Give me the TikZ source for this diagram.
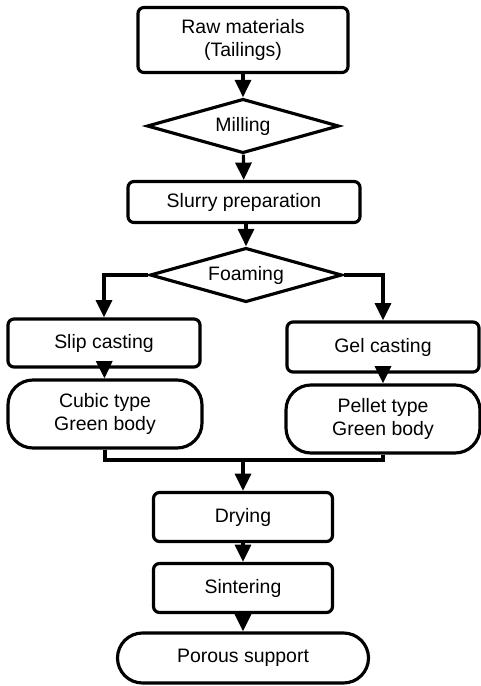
\documentclass[tikz,border=0pt]{standalone}
\usepackage{fontspec}
\setmainfont{Liberation Sans}
\usetikzlibrary{shapes.geometric,arrows.meta}

\begin{document}
\begin{tikzpicture}[x=0.03cm, y=-0.03cm, font=\fontsize{16.6}{20}\selectfont,
    procbox/.style={draw, line width=2.7pt, rounded corners=0.18cm, align=center, inner sep=0pt},
    endbox/.style={draw, line width=2.7pt, rounded corners=0.75cm, align=center, inner sep=0pt},
    choice/.style={draw, diamond, aspect=3.5, line width=2.7pt, inner sep=0pt,
      minimum width=5.76cm, minimum height=1.63cm},
    flow/.style={line width=2.7pt, -{Triangle[length=0.52cm,width=0.48cm]}},
    mergeline/.style={line width=2.7pt}]
        \useasboundingbox (0,0) rectangle (481,686);
        % main column
        \node[procbox, minimum width=6.3cm, minimum height=1.95cm] (raw) at (243,40) {Raw materials\\(Tailings)};
        \node[choice] (mill) at (243,126) {Milling};
        \node[procbox, minimum width=6.96cm, minimum height=1.23cm] (slurry) at (244,202) {Slurry preparation};
        \node[choice] (foam) at (246,275) {Foaming};
        % two branches
        \node[procbox, minimum width=5.76cm, minimum height=1.44cm] (slip) at (104,343) {Slip casting};
        \node[procbox, minimum width=5.76cm, minimum height=1.5cm] (gel) at (383,347) {Gel casting};
        \node[endbox, minimum width=5.82cm, minimum height=2.04cm] (cubic) at (105,414) {Cubic type\\Green body};
        \node[endbox, minimum width=5.82cm, minimum height=2.04cm] (pellet) at (383,419) {Pellet type\\Green body};
        % after merge
        \coordinate (merge) at (243,460);
        \node[procbox, minimum width=5.37cm, minimum height=1.47cm] (dry) at (243,517) {Drying};
        \node[procbox, minimum width=5.37cm, minimum height=1.47cm] (sinter) at (243,588) {Sintering};
        \node[endbox, minimum width=7.53cm, minimum height=1.5cm] (porous) at (243,658) {Porous support};

        % arrows
        \draw[flow] (raw) -- (mill);
        \draw[flow] (mill) -- (slurry);
        \draw[flow] (slurry.south -| foam.north) -- (foam);
        \draw[flow] (foam.west) -| (slip.north);
        \draw[flow] (foam.east) -| (gel.north);
        \draw[flow] (slip) -- (cubic);
        \draw[flow] (gel) -- (pellet);
        \draw[mergeline] (cubic.south) |- (merge) -| (pellet.south);
        \draw[flow] (merge) -- (dry);
        \draw[flow] (dry) -- (sinter);
        \draw[flow] (sinter) -- (porous);
\end{tikzpicture}
\end{document}
